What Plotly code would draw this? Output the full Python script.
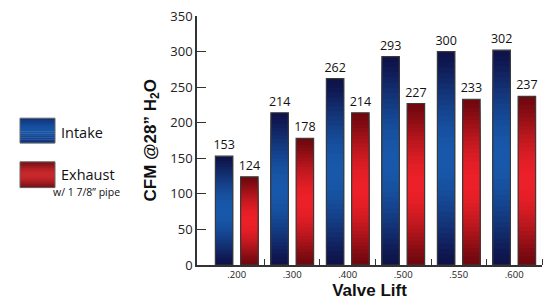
import plotly.graph_objects as go
import numpy as np

categories = [".200", ".300", ".400", ".500", ".550", ".600"]
intake = [153, 214, 262, 293, 300, 302]
exhaust = [124, 178, 214, 227, 233, 237]
y_ticks = [0, 50, 100, 150, 200, 250, 300, 350]

x = list(range(len(categories)))
N = 40
BW = 0.315
OFF_I = -0.385
OFF_E = 0.07

def lerp(c1, c2, f):
    return tuple(int(round(a + (b - a) * f)) for a, b in zip(c1, c2))

def grad(dark, bright, t):
    f = np.sin(np.pi * t) ** 1.3
    c = lerp(dark, bright, f)
    return "rgb(%d,%d,%d)" % c

BLUE_D, BLUE_B = (14, 18, 72), (24, 88, 170)
RED_D, RED_B = (110, 8, 14), (236, 32, 40)

fig = go.Figure()

for vals, off, dark, bright in [(intake, OFF_I, BLUE_D, BLUE_B), (exhaust, OFF_E, RED_D, RED_B)]:
    for k in range(N):
        frac = (N - k) / N
        t = (N - k - 0.5) / N
        fig.add_trace(go.Bar(
            x=x, y=[v * frac for v in vals], width=BW, offset=off,
            marker=dict(color=grad(dark, bright, t), line=dict(width=0)),
            showlegend=False, hoverinfo="skip"))
    fig.add_trace(go.Bar(
        x=x, y=vals, width=BW, offset=off,
        marker=dict(color="rgba(0,0,0,0)", line=dict(width=1.2, color="#3a3a3a")),
        text=[str(v) for v in vals], textposition="outside", constraintext="none",
        textfont=dict(family="Open Sans", size=12.5, color="#111"),
        cliponaxis=False, showlegend=False))

fig.update_layout(
    barmode="overlay",
    width=549, height=302,
    margin=dict(l=197, r=7, t=15, b=36),
    paper_bgcolor="white", plot_bgcolor="white",
    xaxis=dict(
        range=[-0.716, 5.5], tickvals=x, ticktext=categories, ticks="",
        tickfont=dict(family="Open Sans", size=9.5, color="#222"),
        showline=True, linecolor="#333", linewidth=1.5, showgrid=False, zeroline=False,
        minor=dict(tickvals=[i + 0.5 for i in x], ticks="inside", ticklen=6,
                   tickcolor="#333", tickwidth=1),
        title=dict(text="Valve Lift", standoff=2,
                   font=dict(family="Liberation Sans", size=17, color="#111", weight="bold")),
    ),
    yaxis=dict(
        range=[0, 350], tickvals=y_ticks, ticks="inside", ticklen=9, tickcolor="#333",
        tickfont=dict(family="Open Sans", size=13, color="#222"),
        showline=True, linecolor="#333", linewidth=1.5, showgrid=False, zeroline=False,
    ),
    font=dict(family="Open Sans"),
)

fig.add_annotation(
    text="CFM @28\u201d H<sub>2</sub>O", xref="paper", yref="paper",
    x=(151 - 197) / 345, y=0.5, xanchor="center", yanchor="middle",
    textangle=-90, showarrow=False,
    font=dict(family="Liberation Sans", size=17, color="#111", weight="bold"))

def px_x(p):
    return (p - 197) / 345

def px_y(p):
    return (266 - p) / 251

def legend_box(y0, y1, dark, bright):
    n = 13
    for i in range(n):
        a = y0 + (y1 - y0) * i / n
        b = y0 + (y1 - y0) * (i + 1) / n
        t = (i + 0.5) / n
        fig.add_shape(type="rect", xref="paper", yref="paper",
                      x0=px_x(20), x1=px_x(55), y0=px_y(a), y1=px_y(b + 0.3),
                      fillcolor=grad(dark, bright, t), line=dict(width=0), layer="above")
    fig.add_shape(type="rect", xref="paper", yref="paper",
                  x0=px_x(20), x1=px_x(55), y0=px_y(y0), y1=px_y(y1),
                  fillcolor="rgba(0,0,0,0)", line=dict(width=1, color="#666"), layer="above")

legend_box(118, 143, (16, 50, 120), (22, 84, 165))
legend_box(162, 188, (120, 16, 20), (200, 40, 44))

fig.add_annotation(text="Intake", xref="paper", yref="paper", x=px_x(59), y=px_y(132),
                   xanchor="left", yanchor="middle", showarrow=False,
                   font=dict(family="Open Sans", size=14.5, color="#111"))
fig.add_annotation(text="Exhaust", xref="paper", yref="paper", x=px_x(59), y=px_y(175),
                   xanchor="left", yanchor="middle", showarrow=False,
                   font=dict(family="Open Sans", size=14.5, color="#111"))
fig.add_annotation(text="w/ 1 7/8\u201d pipe", xref="paper", yref="paper", x=px_x(51), y=px_y(192.5),
                   xanchor="left", yanchor="middle", showarrow=False,
                   font=dict(family="Open Sans", size=10.5, color="#111"))

fig.write_html("out.html")
